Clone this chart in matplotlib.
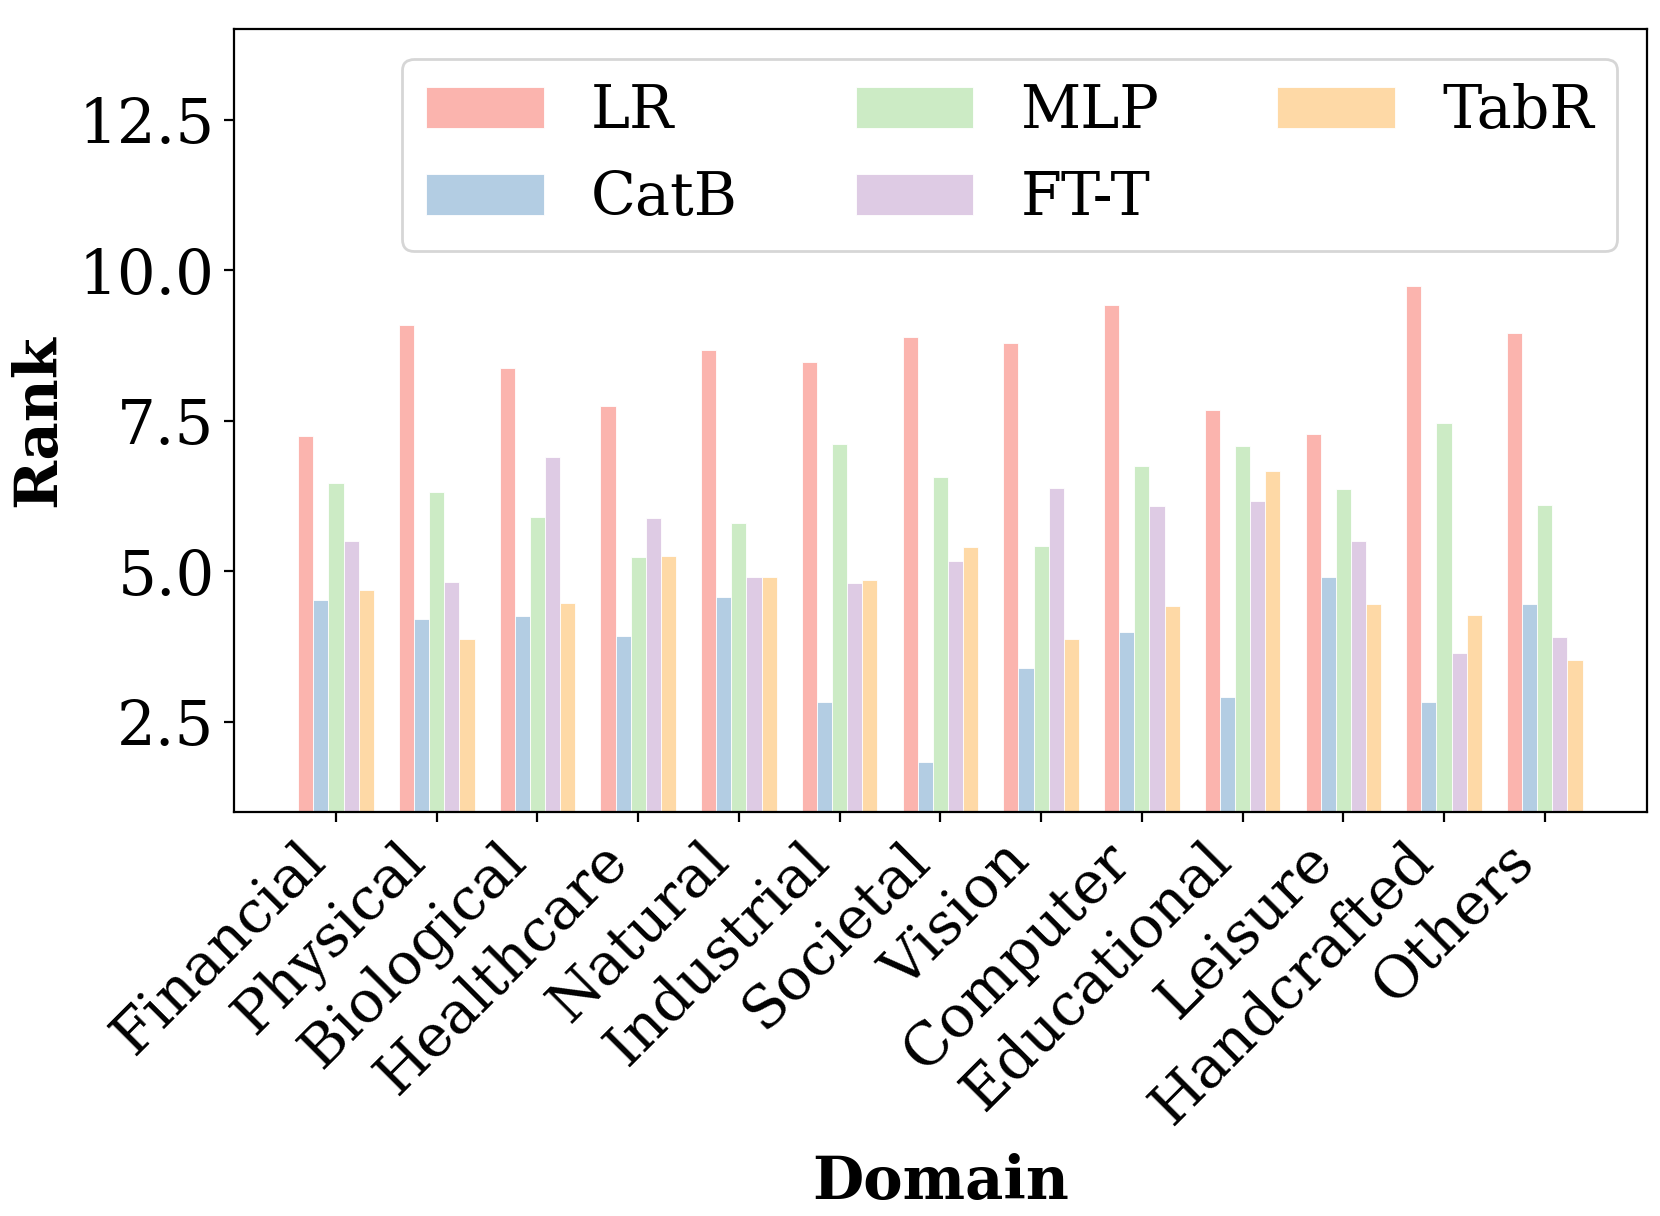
import matplotlib
matplotlib.use("Agg")
import matplotlib.pyplot as plt
import numpy as np

plt.rcParams['font.family'] = ['DejaVu Serif']

# domains on the x axis
domains = ['Financial', 'Physical', 'Biological', 'Healthcare', 'Natural',
           'Industrial', 'Societal', 'Vision', 'Computer', 'Educational',
           'Leisure', 'Handcrafted', 'Others']

# average rank per method
lr = [7.25, 9.09, 8.37, 7.74, 8.67, 8.48, 8.89, 8.79, 9.42, 7.67, 7.28, 9.73, 8.95]
catb = [4.52, 4.21, 4.26, 3.93, 4.57, 2.83, 1.83, 3.39, 4.00, 2.92, 4.90, 2.83, 4.45]
mlp = [6.46, 6.31, 5.90, 5.23, 5.81, 7.11, 6.56, 5.42, 6.75, 7.08, 6.36, 7.46, 6.10]
ftt = [5.51, 4.83, 6.90, 5.88, 4.91, 4.80, 5.17, 6.38, 6.08, 6.17, 5.50, 3.64, 3.91]
tabr = [4.69, 3.87, 4.47, 5.25, 4.91, 4.86, 5.41, 3.88, 4.42, 6.67, 4.46, 4.28, 3.53]

methods = ['LR', 'CatB', 'MLP', 'FT-T', 'TabR']
colors = ['#fbb4ae', '#b3cde3', '#ccebc5', '#decbe4', '#fed9a6']

fig = plt.figure(figsize=(8.3, 6.08), dpi=200)
ax = fig.add_axes([0.141, 0.332, 0.851, 0.644])

x = np.arange(len(domains))
width = 0.15
for i, (vals, name, c) in enumerate(zip([lr, catb, mlp, ftt, tabr], methods, colors)):
    ax.bar(x + (i - 2) * width, vals, width, label=name, color=c,
           edgecolor='white', linewidth=0.3)

ax.set_ylim(1, 14)
ax.set_xticks(x)
ax.set_xticklabels(domains, rotation=45, ha='right', fontsize=21)
ax.tick_params(axis='y', labelsize=22)
ax.set_xlabel('Domain', fontsize=21.3, fontweight='bold', labelpad=6.5)
ax.set_ylabel('Rank', fontsize=21.3, fontweight='bold')
ax.legend(ncol=3, fontsize=21.2, loc='upper right')

fig.savefig('out.png', dpi=200)
